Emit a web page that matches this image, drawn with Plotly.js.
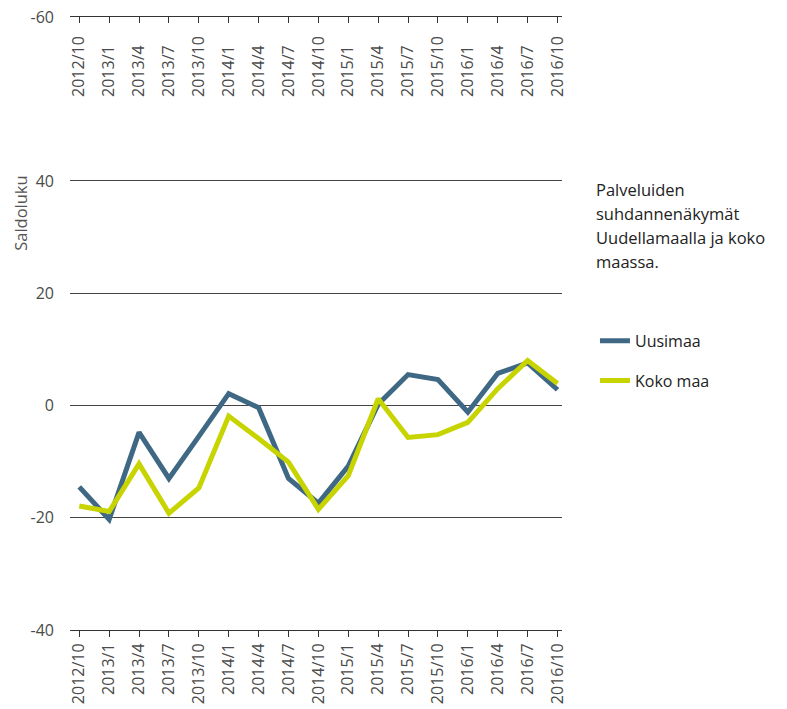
<!DOCTYPE html>
<html><head><meta charset="utf-8">
<script src="https://cdn.plot.ly/plotly-3.0.1.min.js"></script>
<style>html,body{margin:0;padding:0;background:#fff}#chart{width:787px;height:709px}</style>
</head><body><div id="chart"></div>
<script>
const periods = ['2012/10','2013/1','2013/4','2013/7','2013/10','2014/1','2014/4','2014/7','2014/10','2015/1','2015/4','2015/7','2015/10','2016/1','2016/4','2016/7','2016/10'];
const uusimaa = [-14.5,-20.3,-4.8,-13.0,-5.5,2.1,-0.4,-13.0,-17.4,-10.8,0.2,5.5,4.6,-1.2,5.7,7.6,2.8];
const kokoMaa = [-17.9,-18.9,-10.4,-19.2,-14.7,-1.9,-5.9,-10.1,-18.5,-12.5,1.2,-5.7,-5.2,-3.0,3.0,8.0,3.9];
const yTickVals = [-40,-20,0,20,40,69.2];
const yTickText = ['-40','-20','0','20','40','-60'];
const noteLines = ['Palveluiden','suhdannenäkymät','Uudellamaalla ja koko','maassa.'];
const yTitle = 'Saldoluku';

const FONT = 'Open Sans, sans-serif';
const blank = periods.map(() => null);
const traces = [
  {x: periods, y: uusimaa, name: 'Uusimaa', type: 'scatter', mode: 'lines',
   line: {color: '#3f6884', width: 5}, legendgroup: 'a'},
  {x: periods, y: kokoMaa, name: 'Koko maa', type: 'scatter', mode: 'lines',
   line: {color: '#c8d400', width: 5}, legendgroup: 'b'},
  {x: periods, y: blank, xaxis: 'x2', yaxis: 'y', showlegend: false,
   hoverinfo: 'skip', type: 'scatter', mode: 'lines'},
  {x: periods, y: blank, xaxis: 'x3', yaxis: 'y', showlegend: false,
   hoverinfo: 'skip', type: 'scatter', mode: 'lines'}
];
const xCommon = {
  type: 'category', categoryorder: 'array', categoryarray: periods,
  range: [-0.31, 16.15], tickangle: -90, ticklen: 6,
  tickcolor: '#333', tickwidth: 1, showline: true, linecolor: '#333', linewidth: 1,
  showgrid: false, zeroline: false, tickfont: {family: FONT, size: 16, color: '#4a4a4a'}
};
const annotations = noteLines.map((t, i) => ({
  text: t, xref: 'paper', yref: 'paper', x: 1.066, y: (630.5 - (189.5 + 24 * i)) / 613.5,
  xanchor: 'left', yanchor: 'middle', showarrow: false, align: 'left',
  font: {family: FONT, size: 16.5, color: '#222'}
}));
annotations.push({
  text: yTitle, xref: 'paper', yref: 'paper', x: -0.0996, y: (630.5 - 213) / 613.5,
  xanchor: 'center', yanchor: 'middle', textangle: -90, showarrow: false,
  font: {family: FONT, size: 16.5, color: '#555'}
});
const layout = {
  width: 787, height: 709,
  margin: {l: 70, r: 225, t: 17, b: 78.5},
  paper_bgcolor: '#fff', plot_bgcolor: '#fff',
  showlegend: true,
  legend: {x: 1.067, xanchor: 'left', y: 0.4996, yanchor: 'top', tracegroupgap: 16,
           font: {family: FONT, size: 16, color: '#222'}, bgcolor: 'rgba(0,0,0,0)'},
  xaxis: Object.assign({}, xCommon, {side: 'bottom', ticks: 'outside'}),
  xaxis2: Object.assign({}, xCommon, {side: 'top', overlaying: 'x', anchor: 'free',
                                      position: (630.5 - 97) / 613.5, showline: false,
                                      ticks: '', ticklabelstandoff: 0}),
  xaxis3: Object.assign({}, xCommon, {side: 'top', overlaying: 'x', ticks: 'inside',
                                      showticklabels: false}),
  yaxis: {range: [-40, 69.2], tickvals: yTickVals, ticktext: yTickText,
          showgrid: true, gridcolor: '#444', gridwidth: 1, zeroline: false,
          showline: false, ticks: '', ticklabelstandoff: 15,
          tickfont: {family: FONT, size: 16, color: '#4a4a4a'}},
  annotations: annotations
};
Plotly.newPlot('chart', traces, layout, {displayModeBar: false, staticPlot: true});
</script></body></html>
